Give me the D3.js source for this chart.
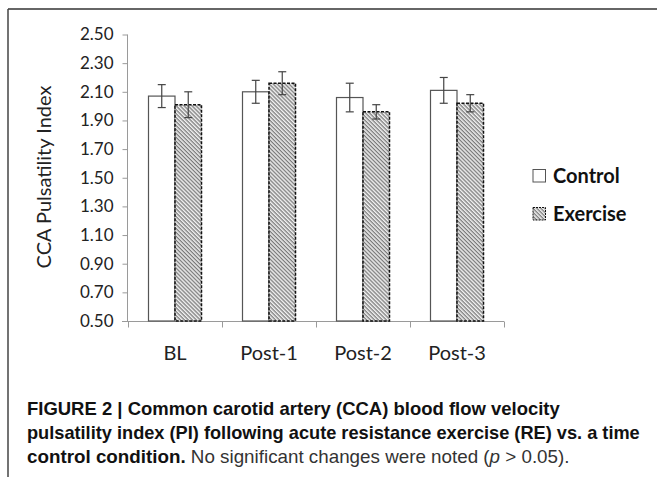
<!DOCTYPE html>
<html><head><meta charset="utf-8">
<script src="https://cdn.jsdelivr.net/npm/d3@7"></script>
<style>body{margin:0;background:#fff}svg{display:block}</style>
</head><body>
<svg id="c" width="657" height="477"></svg>
<script>
const categories = ["BL", "Post-1", "Post-2", "Post-3"];
const series = ["Control", "Exercise"];
const controlValues = [2.07, 2.10, 2.06, 2.11];
const controlErrors = [0.08, 0.08, 0.10, 0.09];
const exerciseValues = [2.01, 2.16, 1.96, 2.02];
const exerciseErrors = [0.09, 0.08, 0.05, 0.06];
const yTicks = [0.50, 0.70, 0.90, 1.10, 1.30, 1.50, 1.70, 1.90, 2.10, 2.30, 2.50];
const yLabel = "CCA Pulsatility Index";
const captionLines = [
  [{t:"FIGURE 2 | Common carotid artery (CCA) blood flow velocity", b:true}],
  [{t:"pulsatility index (PI) following acute resistance exercise (RE) vs. a time", b:true}],
  [{t:"control condition.", b:true},{t:" No significant changes were noted (", b:false},{t:"p", b:false, i:true},{t:" > 0.05).", b:false}]
];

const svg = d3.select("#c");
const defs = svg.append("defs");
const pat = defs.append("pattern").attr("id","hatch").attr("patternUnits","userSpaceOnUse")
  .attr("width",2.8).attr("height",2.8).attr("patternTransform","rotate(45)");
pat.append("rect").attr("width",2.8).attr("height",2.8).attr("fill","#f0f0f0");
pat.append("line").attr("x1",0).attr("y1",0.7).attr("x2",2.8).attr("y2",0.7).attr("stroke","#5a5a5a").attr("stroke-width",1);

// frame
svg.append("line").attr("x1",8).attr("y1",9).attr("x2",657).attr("y2",9).attr("stroke","#333").attr("stroke-width",1.5);
svg.append("line").attr("x1",8).attr("y1",9).attr("x2",8).attr("y2",477).attr("stroke","#444").attr("stroke-width",1.5);

const y = d3.scaleLinear().domain([0.5, 2.5]).range([321, 34.5]);
const x0 = d3.scaleBand().domain(categories).range([128, 504]);
const barW = 26.5;
const x1 = d3.scaleBand().domain(series).range([-barW, barW]);

const font = "Lato, 'Open Sans', sans-serif";
// y axis
const yAxis = d3.axisLeft(y).tickValues(yTicks).tickFormat(d3.format(".2f")).tickSize(5).tickPadding(9);
const gy = svg.append("g").attr("transform","translate(127.5,0)").call(yAxis);
gy.select(".domain").attr("stroke","#9a9a9a").attr("d","M0,"+y(2.5)+"V"+(y(0.5)+0.5));
gy.selectAll(".tick line").attr("stroke","#9a9a9a");
gy.selectAll(".tick text").attr("font-family",font).attr("font-size",17).attr("fill","#222");

// x axis
const xAxis = d3.axisBottom(x0).tickSize(0).tickPadding(18);
const gx = svg.append("g").attr("transform","translate(0,321.5)").call(xAxis);
gx.select(".domain").attr("stroke","#9a9a9a").attr("d","M122,0H504");
gx.selectAll(".tick text").attr("font-family",font).attr("font-size",20).attr("fill","#222").attr("dy","1.0em");
const bounds = categories.map(c => x0(c)).concat([x0.range()[1]]);
gx.selectAll(".bnd").data(bounds).join("line").attr("class","bnd")
  .attr("x1",d=>d+0.5).attr("x2",d=>d+0.5).attr("y1",0).attr("y2",6).attr("stroke","#9a9a9a");

// bars
const data = [];
categories.forEach((c,i)=>{
  data.push({c, s:"Control", v:controlValues[i], e:controlErrors[i]});
  data.push({c, s:"Exercise", v:exerciseValues[i], e:exerciseErrors[i]});
});
function bx(d){ return x0(d.c) + x0.bandwidth()/2 + x1(d.s); }
svg.selectAll(".bar").data(data).join("rect").attr("class","bar")
  .attr("x", d=>bx(d)).attr("width", x1.bandwidth())
  .attr("y", d=>y(d.v)).attr("height", d=>y(0.5)-y(d.v))
  .attr("fill", d=>d.s==="Control"?"#fff":"url(#hatch)")
  .attr("stroke", d=>d.s==="Control"?"#555":"#111")
  .attr("stroke-width", d=>d.s==="Control"?1.2:1.5)
  .attr("stroke-dasharray", d=>d.s==="Control"?null:"3,1.5");

// error bars
const eg = svg.selectAll(".err").data(data).join("g").attr("class","err");
const mid = d => bx(d) + x1.bandwidth()/2;
eg.append("line").attr("x1",mid).attr("x2",mid).attr("y1",d=>y(d.v+d.e)).attr("y2",d=>y(d.v-d.e)).attr("stroke","#444").attr("stroke-width",1.2);
eg.append("line").attr("x1",d=>mid(d)-4).attr("x2",d=>mid(d)+4).attr("y1",d=>y(d.v+d.e)).attr("y2",d=>y(d.v+d.e)).attr("stroke","#444").attr("stroke-width",1.2);
eg.append("line").attr("x1",d=>mid(d)-4).attr("x2",d=>mid(d)+4).attr("y1",d=>y(d.v-d.e)).attr("y2",d=>y(d.v-d.e)).attr("stroke","#444").attr("stroke-width",1.2);

// y label
svg.append("text").attr("transform","translate(51,177) rotate(-90)")
  .attr("text-anchor","middle").attr("font-family",font).attr("font-size",20).attr("fill","#222").text(yLabel);

// legend
const lg = svg.selectAll(".leg").data(series).join("g").attr("class","leg")
  .attr("transform",(d,i)=>"translate(533,"+(169.5+i*38)+")");
lg.append("rect").attr("width",12.5).attr("height",12.5)
  .attr("fill",d=>d==="Control"?"#fff":"url(#hatch)")
  .attr("stroke",d=>d==="Control"?"#555":"#111")
  .attr("stroke-dasharray",d=>d==="Control"?null:"2,1");
lg.append("text").attr("x",20).attr("y",13).attr("font-family",font).attr("font-weight","bold")
  .attr("font-size",20).attr("fill","#111").text(d=>d);

// caption
const capFont = "'Liberation Sans Narrow', 'Arial Narrow', 'Liberation Sans', Arial, sans-serif";
const targets = [533, 613, 543];
captionLines.forEach((parts,i)=>{
  const t = svg.append("text").attr("x",27).attr("y",415+i*24).attr("font-family",capFont)
    .attr("font-size",18).attr("fill","#1a1a1a");
  parts.forEach(p=>{
    t.append("tspan").attr("font-weight",p.b?"bold":"normal").attr("font-style",p.i?"italic":"normal")
      .attr("fill",p.b?"#111":"#333").text(p.t);
  });
  const w = t.node().getComputedTextLength();
  const s = targets[i]/w;
  t.attr("transform","translate(27,0) scale("+s+",1) translate(-27,0)");
});
</script>
</body></html>
